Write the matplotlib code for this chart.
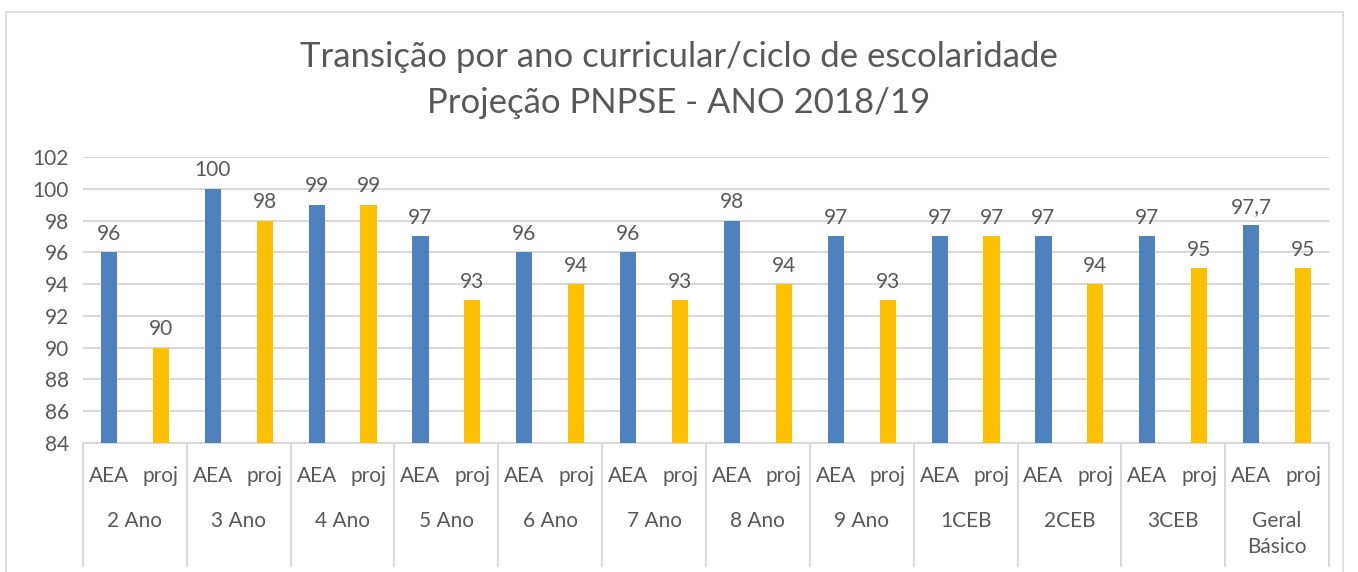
import numpy as np
import matplotlib.pyplot as plt

plt.rcParams['font.family'] = ['Lato', 'DejaVu Sans']

groups = ["2 Ano", "3 Ano", "4 Ano", "5 Ano", "6 Ano", "7 Ano", "8 Ano",
          "9 Ano", "1CEB", "2CEB", "3CEB", "Geral\nBásico"]
series = ["AEA", "proj"]
aea = [96, 100, 99, 97, 96, 96, 98, 97, 97, 97, 97, 97.7]
proj = [90, 98, 99, 93, 94, 93, 94, 93, 97, 94, 95, 95]
yticks = [84, 86, 88, 90, 92, 94, 96, 98, 100, 102]

blue = "#4f81bd"
yellow = "#ffc000"
txt = "#595959"
grid = "#d9d9d9"
fs = 15

fig = plt.figure(figsize=(13.58, 5.72), dpi=100)
ax = fig.add_axes([83 / 1358, 1 - 443 / 572, (1329 - 83) / 1358, (443 - 157) / 572])

n = len(groups)
xa = np.arange(n) * 2
xp = xa + 1
w = 0.31
ax.bar(xa, [v - 84 for v in aea], bottom=84, width=w, color=blue, zorder=3)
ax.bar(xp, [v - 84 for v in proj], bottom=84, width=w, color=yellow, zorder=3)


def fmt(v):
    s = f"{v:g}"
    return s.replace(".", ",")


for x, v in zip(xa, aea):
    ax.annotate(fmt(v), (x, v), xytext=(0, 6), textcoords="offset points",
                ha="center", va="bottom", fontsize=fs, color=txt)
for x, v in zip(xp, proj):
    ax.annotate(fmt(v), (x, v), xytext=(0, 6), textcoords="offset points",
                ha="center", va="bottom", fontsize=fs, color=txt)

ax.set_xlim(-0.5, 2 * n - 0.5)
ax.set_ylim(84, 102)
ax.set_yticks(yticks)
ax.set_yticklabels([str(t) for t in yticks], fontsize=fs, color=txt)
ax.tick_params(axis="y", length=0, pad=10)
ax.set_xticks([])
ax.grid(axis="y", color=grid, linewidth=1.5, zorder=0)
for s in ["top", "right", "left"]:
    ax.spines[s].set_visible(False)
ax.spines["bottom"].set_color(grid)
ax.spines["bottom"].set_linewidth(1.5)

# two-level category axis
trans = ax.get_xaxis_transform()
ax_h = (443 - 157)
for i in range(n + 1):
    xb = 2 * i - 0.5
    ax.plot([xb, xb], [0, -(566 - 443) / ax_h], transform=trans, color=grid,
            linewidth=1.5, clip_on=False)
for i, g in enumerate(groups):
    ax.text(xa[i], -(476 - 443) / ax_h, series[0], transform=trans,
            ha="center", va="center", fontsize=fs, color=txt)
    ax.text(xp[i], -(476 - 443) / ax_h, series[1], transform=trans,
            ha="center", va="center", fontsize=fs, color=txt)
    ax.text(xa[i] + 0.5, -(511 - 443) / ax_h, g, transform=trans,
            ha="center", va="top", fontsize=fs, color=txt, linespacing=1.4)

fig.text(0.5, 1 - 57 / 572, "Transição por ano curricular/ciclo de escolaridade",
         ha="center", va="center", fontsize=25, color=txt)
fig.text(0.5, 1 - 103 / 572, "Projeção PNPSE - ANO 2018/19",
         ha="center", va="center", fontsize=25, color=txt)

# outer chart frame
fig.add_artist(plt.Rectangle((6 / 1358, -0.05), (1343 - 6) / 1358, 1 - 12 / 572 + 0.05,
                             transform=fig.transFigure, fill=False,
                             edgecolor=grid, linewidth=1.2))

fig.savefig("out.png", dpi=100)
